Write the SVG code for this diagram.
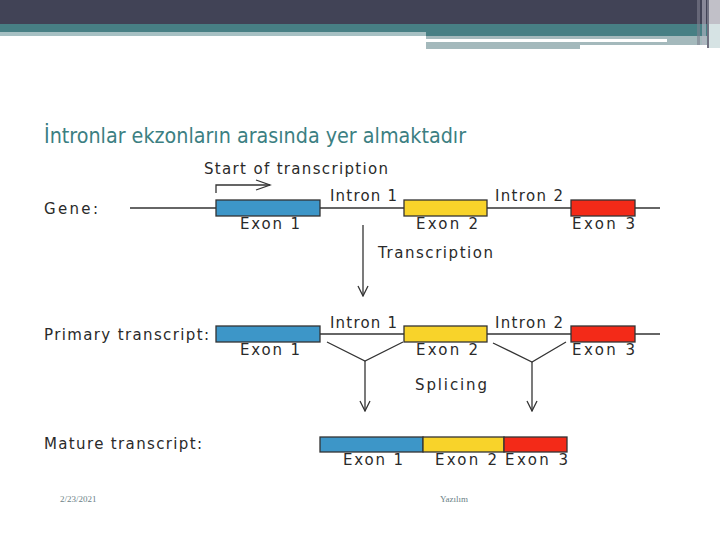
<svg xmlns="http://www.w3.org/2000/svg" width="720" height="540" viewBox="0 0 720 540">
<style>
.lbl{font-family:"DejaVu Sans","Liberation Sans",Arial,sans-serif;font-size:15px;fill:#2a2a2a}
.ln{stroke:#333;stroke-width:1.3;fill:none}
.ex{stroke:#333;stroke-width:1.3}
.e1{fill:#3d96c8}.e2{fill:#f8d32a}.e3{fill:#f32a18}
.foot{font-family:"Liberation Serif",serif;font-size:9px;fill:#6b7f86}
</style>
<defs>
<marker id="ah" viewBox="0 0 12 12" refX="11" refY="6" markerWidth="12" markerHeight="12" markerUnits="userSpaceOnUse" orient="auto">
<path d="M1,1 L11,6 L1,11" fill="none" stroke="#333" stroke-width="1.3"/>
</marker>
</defs>
<rect width="720" height="540" fill="#fff"/>
<g id="header">
<rect x="0" y="0" width="720" height="24" fill="#414356"/>
<rect x="0" y="24" width="720" height="12" fill="#477f84"/>
<rect x="0" y="32" width="426" height="4" fill="#a6c0c3"/>
<rect x="426" y="36" width="241" height="3" fill="#a4b9bc"/>
<rect x="426" y="42" width="154" height="7" fill="#a4b9bc"/>
<rect x="580" y="42" width="87" height="3" fill="#a4b9bc"/>
<rect x="667" y="36" width="40" height="9" fill="#a4b9bc"/>
<rect x="697" y="0" width="3" height="45" fill="#7f8090" opacity="0.6"/>
<rect x="702" y="0" width="4" height="45" fill="#b8b8c4" opacity="0.6"/>
<rect x="707" y="0" width="2" height="48" fill="#6f7080"/>
<rect x="709" y="0" width="11" height="24" fill="#c1c0c8"/>
<rect x="709" y="24" width="11" height="24" fill="#d6e3e4"/>
</g>
<text x="44" y="143" font-family="'DejaVu Sans Condensed','DejaVu Sans',sans-serif" font-stretch="condensed" font-size="21" fill="#3c7f82" textLength="422" lengthAdjust="spacingAndGlyphs">İntronlar ekzonların arasında yer almaktadır</text>
<g id="connectors">
<line class="ln" x1="130" y1="208" x2="660" y2="208"/>
<path class="ln" d="M216,193 V185 H270"/>
<path class="ln" d="M256,180 L270,185 L256,190"/>
<line class="ln" x1="363" y1="225" x2="363" y2="296" marker-end="url(#ah)"/>
<line class="ln" x1="320" y1="334" x2="660" y2="334"/>
<path class="ln" d="M327,342 L365,361 L403,342"/>
<line class="ln" x1="365" y1="361" x2="365" y2="411" marker-end="url(#ah)"/>
<path class="ln" d="M493,343 L532,362 L566,342"/>
<line class="ln" x1="532" y1="362" x2="532" y2="411" marker-end="url(#ah)"/>
</g>
<g id="start-label"><text class="lbl" x="204" y="174" textLength="184">Start of transcription</text></g>
<g id="gene">
<text class="lbl" x="44" y="214" textLength="54">Gene:</text>
<rect class="ex e1" x="216" y="200" width="104" height="16"/>
<rect class="ex e2" x="404" y="200" width="83" height="16"/>
<rect class="ex e3" x="571" y="200" width="64" height="16"/>
<text class="lbl" x="240" y="229" textLength="60">Exon 1</text>
<text class="lbl" x="416" y="229" textLength="62">Exon 2</text>
<text class="lbl" x="572" y="229" textLength="63">Exon 3</text>
<text class="lbl" x="330" y="201" textLength="67">Intron 1</text>
<text class="lbl" x="495" y="201" textLength="68">Intron 2</text>
</g>
<g id="transcription-label"><text class="lbl" x="378" y="258" textLength="115">Transcription</text></g>
<g id="primary">
<text class="lbl" x="44" y="340" textLength="165">Primary transcript:</text>
<rect class="ex e1" x="216" y="326" width="104" height="16"/>
<rect class="ex e2" x="404" y="326" width="83" height="16"/>
<rect class="ex e3" x="571" y="326" width="64" height="16"/>
<text class="lbl" x="240" y="355" textLength="60">Exon 1</text>
<text class="lbl" x="416" y="355" textLength="62">Exon 2</text>
<text class="lbl" x="572" y="355" textLength="63">Exon 3</text>
<text class="lbl" x="330" y="328" textLength="67">Intron 1</text>
<text class="lbl" x="495" y="328" textLength="68">Intron 2</text>
</g>
<g id="splicing-label"><text class="lbl" x="415" y="390" textLength="72">Splicing</text></g>
<g id="mature">
<text class="lbl" x="44" y="449" textLength="158">Mature transcript:</text>
<rect class="ex e1" x="320" y="437" width="103" height="15"/>
<rect class="ex e2" x="423" y="437" width="81" height="15"/>
<rect class="ex e3" x="504" y="437" width="63" height="15"/>
<text class="lbl" x="343" y="465" textLength="60">Exon 1</text>
<text class="lbl" x="435" y="465" textLength="62">Exon 2</text>
<text class="lbl" x="505" y="465" textLength="63">Exon 3</text>
</g>
<g id="footer">
<text class="foot" x="60" y="502">2/23/2021</text>
<text class="foot" x="440" y="502">Yazılım</text>
</g>
</svg>
